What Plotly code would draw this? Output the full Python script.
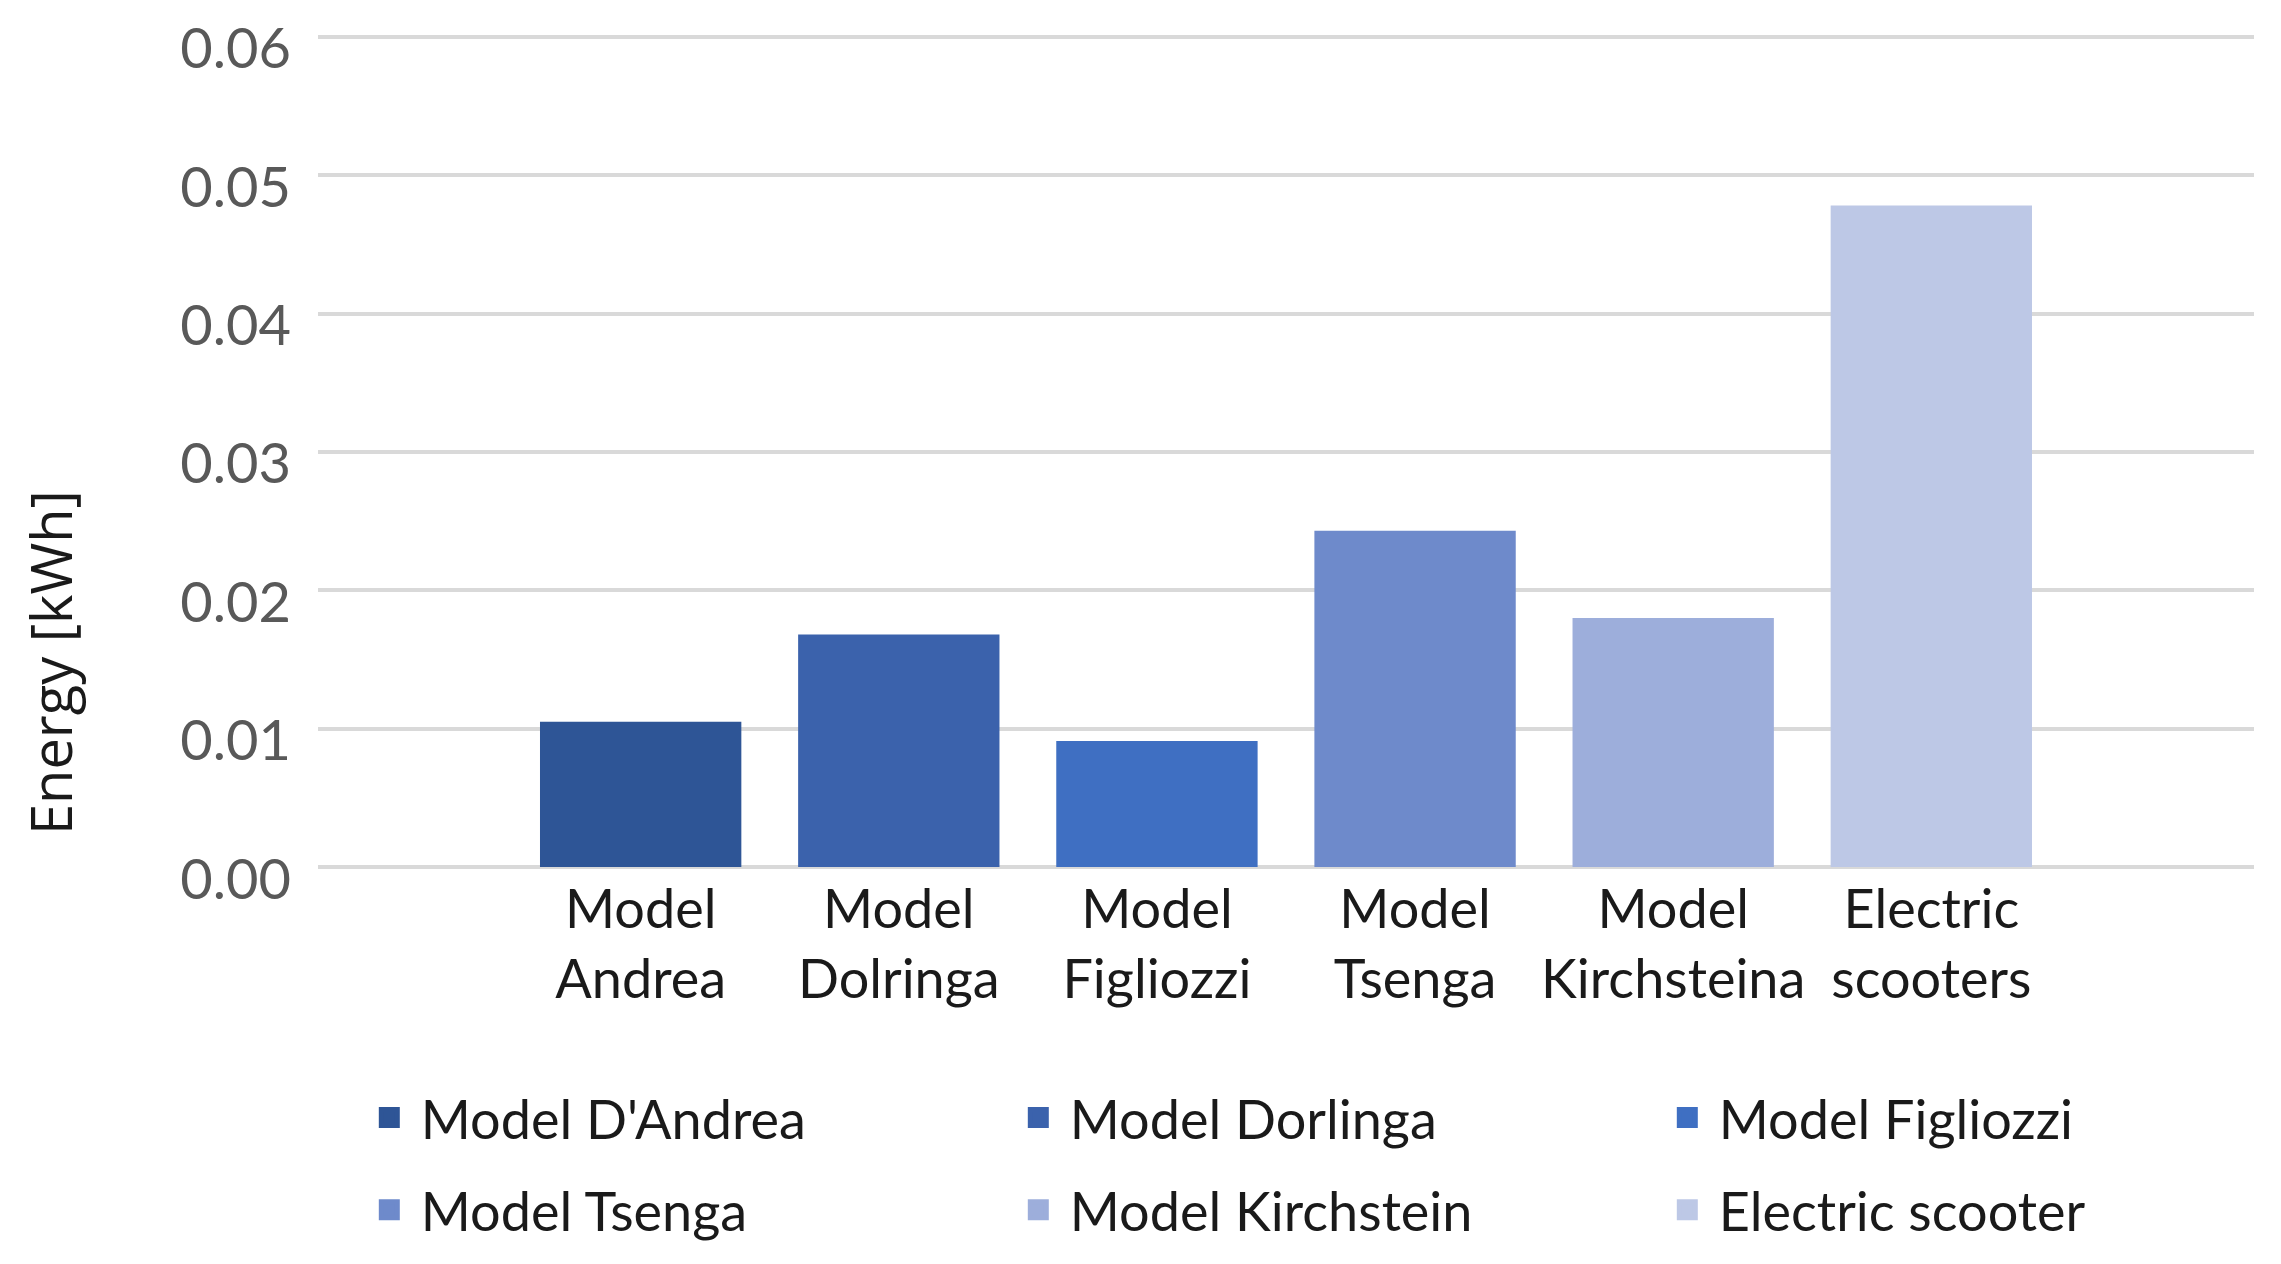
import plotly.graph_objects as go

categories = ["Model<br>Andrea", "Model<br>Dolringa", "Model<br>Figliozzi",
              "Model<br>Tsenga", "Model<br>Kirchsteina", "Electric<br>scooters"]
series_names = ["Model D'Andrea", "Model Dorlinga", "Model Figliozzi",
                "Model Tsenga", "Model Kirchstein", "Electric scooter"]
energy_kwh = [0.0105, 0.0168, 0.0091, 0.0243, 0.0180, 0.0478]
colors = ["#2E5596", "#3B62AC", "#3F6FC2", "#6E8ACB", "#9DAEDB", "#BDC8E6"]
legend_rows = ["legend", "legend", "legend", "legend2", "legend2", "legend2"]
y_ticks = [0.00, 0.01, 0.02, 0.03, 0.04, 0.05, 0.06]

fig = go.Figure()
for i, (cat, name, val, col) in enumerate(zip(categories, series_names, energy_kwh, colors)):
    fig.add_trace(go.Bar(
        x=[cat], y=[val], name=name, legendgroup=name,
        marker=dict(color=col, line=dict(width=0)),
        width=0.78, showlegend=False,
    ))
    # legend entry for the bar (no data drawn)
    fig.add_trace(go.Scatter(
        x=[None], y=[None], mode="markers", name=name, legendgroup=name,
        legend=legend_rows[i],
        marker=dict(symbol="square", size=16, color=col, line=dict(color=col, width=5)),
        showlegend=True, hoverinfo="skip",
    ))

legend_common = dict(
    orientation="h", x=-0.0001, xanchor="left", yanchor="middle",
    entrywidth=541, entrywidthmode="pixels", indentation=40,
    font=dict(family="Lato, sans-serif", size=54, color="#1A1A1A"),
    itemwidth=53, bgcolor="rgba(0,0,0,0)",
)

fig.update_layout(
    width=2281, height=1264,
    paper_bgcolor="white", plot_bgcolor="white",
    margin=dict(l=310, r=35, t=26, b=405, autoexpand=False),
    font=dict(family="Lato, sans-serif", size=54, color="#262626"),
    barmode="overlay",
    legend=dict(y=-0.3013, **legend_common),
    legend2=dict(y=-0.4118, **legend_common),
    annotations=[dict(
        text="Energy [kWh]", xref="paper", yref="paper",
        x=-0.1384, y=0.2449, xanchor="center", yanchor="middle",
        textangle=-90, showarrow=False,
        font=dict(family="Open Sans, sans-serif", size=56, color="#1A1A1A"),
    )],
)
fig.update_xaxes(
    type="category", categoryorder="array", categoryarray=categories,
    range=[-1.25, 6.25], showgrid=False, showline=False, ticks="",
    ticklabelstandoff=6,
    tickfont=dict(family="Lato, sans-serif", size=54, color="#1A1A1A"),
)
fig.update_yaxes(
    range=[0, 0.0602], tickvals=y_ticks, tickformat=".2f",
    showgrid=True, gridcolor="#D9D9D9", gridwidth=3.5,
    zeroline=True, zerolinecolor="#D9D9D9", zerolinewidth=3.5,
    showline=False, ticks="", ticklabelstandoff=26, ticklabeloverflow="allow",
    ticklabelshift=12,
    tickfont=dict(family="Lato, sans-serif", size=56, color="#595959"),
)

fig.write_html("out.html")
